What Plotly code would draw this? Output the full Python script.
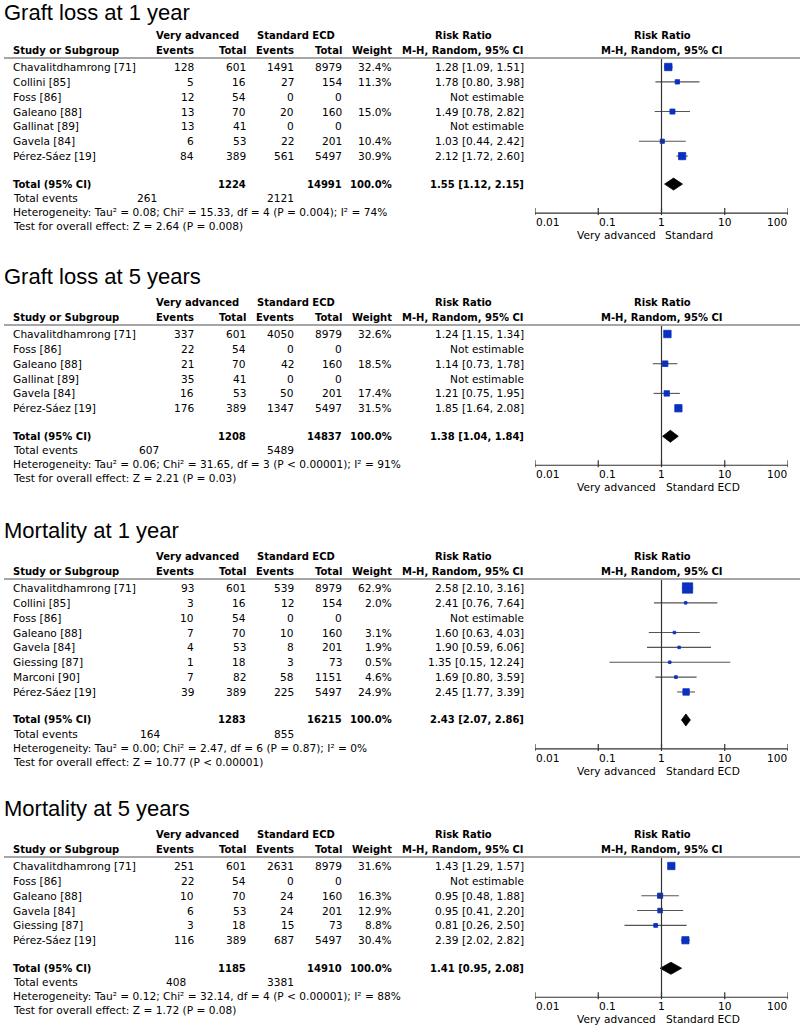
import math
import plotly.graph_objects as go

# ---------------- data ----------------
p1_title = "Graft loss at 1 year"
p1_studies = ["Chavalitdhamrong [71]", "Collini [85]", "Foss [86]", "Galeano [88]",
              "Gallinat [89]", "Gavela [84]", "Pérez-Sáez [19]"]
p1_va_events = [128, 5, 12, 13, 13, 6, 84]
p1_va_total = [601, 16, 54, 70, 41, 53, 389]
p1_se_events = [1491, 27, 0, 20, 0, 22, 561]
p1_se_total = [8979, 154, 0, 160, 0, 201, 5497]
p1_weight = [32.4, 11.3, None, 15.0, None, 10.4, 30.9]
p1_rr = [1.28, 1.78, None, 1.49, None, 1.03, 2.12]
p1_lo = [1.09, 0.80, None, 0.78, None, 0.44, 1.72]
p1_hi = [1.51, 3.98, None, 2.82, None, 2.42, 2.60]
p1_totals = [1224, 14991, 1.55, 1.12, 2.15]
p1_total_events = [261, 2121]
p1_het = "Heterogeneity: Tau² = 0.08; Chi² = 15.33, df = 4 (P = 0.004); I² = 74%"
p1_test = "Test for overall effect: Z = 2.64 (P = 0.008)"
p1_right = "Standard"

p2_title = "Graft loss at 5 years"
p2_studies = ["Chavalitdhamrong [71]", "Foss [86]", "Galeano [88]", "Gallinat [89]",
              "Gavela [84]", "Pérez-Sáez [19]"]
p2_va_events = [337, 22, 21, 35, 16, 176]
p2_va_total = [601, 54, 70, 41, 53, 389]
p2_se_events = [4050, 0, 42, 0, 50, 1347]
p2_se_total = [8979, 0, 160, 0, 201, 5497]
p2_weight = [32.6, None, 18.5, None, 17.4, 31.5]
p2_rr = [1.24, None, 1.14, None, 1.21, 1.85]
p2_lo = [1.15, None, 0.73, None, 0.75, 1.64]
p2_hi = [1.34, None, 1.78, None, 1.95, 2.08]
p2_totals = [1208, 14837, 1.38, 1.04, 1.84]
p2_total_events = [607, 5489]
p2_het = "Heterogeneity: Tau² = 0.06; Chi² = 31.65, df = 3 (P < 0.00001); I² = 91%"
p2_test = "Test for overall effect: Z = 2.21 (P = 0.03)"
p2_right = "Standard ECD"

p3_title = "Mortality at 1 year"
p3_studies = ["Chavalitdhamrong [71]", "Collini [85]", "Foss [86]", "Galeano [88]",
              "Gavela [84]", "Giessing [87]", "Marconi [90]", "Pérez-Sáez [19]"]
p3_va_events = [93, 3, 10, 7, 4, 1, 7, 39]
p3_va_total = [601, 16, 54, 70, 53, 18, 82, 389]
p3_se_events = [539, 12, 0, 10, 8, 3, 58, 225]
p3_se_total = [8979, 154, 0, 160, 201, 73, 1151, 5497]
p3_weight = [62.9, 2.0, None, 3.1, 1.9, 0.5, 4.6, 24.9]
p3_rr = [2.58, 2.41, None, 1.60, 1.90, 1.35, 1.69, 2.45]
p3_lo = [2.10, 0.76, None, 0.63, 0.59, 0.15, 0.80, 1.77]
p3_hi = [3.16, 7.64, None, 4.03, 6.06, 12.24, 3.59, 3.39]
p3_totals = [1283, 16215, 2.43, 2.07, 2.86]
p3_total_events = [164, 855]
p3_het = "Heterogeneity: Tau² = 0.00; Chi² = 2.47, df = 6 (P = 0.87); I² = 0%"
p3_test = "Test for overall effect: Z = 10.77 (P < 0.00001)"
p3_right = "Standard ECD"

p4_title = "Mortality at 5 years"
p4_studies = ["Chavalitdhamrong [71]", "Foss [86]", "Galeano [88]", "Gavela [84]",
              "Giessing [87]", "Pérez-Sáez [19]"]
p4_va_events = [251, 22, 10, 6, 3, 116]
p4_va_total = [601, 54, 70, 53, 18, 389]
p4_se_events = [2631, 0, 24, 24, 15, 687]
p4_se_total = [8979, 0, 160, 201, 73, 5497]
p4_weight = [31.6, None, 16.3, 12.9, 8.8, 30.4]
p4_rr = [1.43, None, 0.95, 0.95, 0.81, 2.39]
p4_lo = [1.29, None, 0.48, 0.41, 0.26, 2.02]
p4_hi = [1.57, None, 1.88, 2.20, 2.50, 2.82]
p4_totals = [1185, 14910, 1.41, 0.95, 2.08]
p4_total_events = [408, 3381]
p4_het = "Heterogeneity: Tau² = 0.12; Chi² = 32.14, df = 4 (P < 0.00001); I² = 88%"
p4_test = "Test for overall effect: Z = 1.72 (P = 0.08)"
p4_right = "Standard ECD"

axis_ticks = [0.01, 0.1, 1, 10, 100]
axis_tick_labels = ["0.01", "0.1", "1", "10", "100"]

# ---------------- layout constants ----------------
W, H = 800, 1025
FONT = "DejaVu Sans"
TITLE_FONT = "Liberation Sans"
FS = 10.6
FSB = 10.0
STEP = 14.85
SQ = "#0a30c0"
CI = "#555555"
TICK_ANCHORS = ["left", "left", "center", "center", "right"]

panels = [
    dict(title=p1_title, studies=p1_studies, vae=p1_va_events, vat=p1_va_total,
         see=p1_se_events, set=p1_se_total, w=p1_weight, rr=p1_rr, lo=p1_lo, hi=p1_hi,
         tot=p1_totals, te=p1_total_events, het=p1_het, test=p1_test, right=p1_right,
         ty=12, h1=35, te_x=158),
    dict(title=p2_title, studies=p2_studies, vae=p2_va_events, vat=p2_va_total,
         see=p2_se_events, set=p2_se_total, w=p2_weight, rr=p2_rr, lo=p2_lo, hi=p2_hi,
         tot=p2_totals, te=p2_total_events, het=p2_het, test=p2_test, right=p2_right,
         ty=276, h1=302, te_x=160),
    dict(title=p3_title, studies=p3_studies, vae=p3_va_events, vat=p3_va_total,
         see=p3_se_events, set=p3_se_total, w=p3_weight, rr=p3_rr, lo=p3_lo, hi=p3_hi,
         tot=p3_totals, te=p3_total_events, het=p3_het, test=p3_test, right=p3_right,
         ty=530, h1=556, te_x=161),
    dict(title=p4_title, studies=p4_studies, vae=p4_va_events, vat=p4_va_total,
         see=p4_se_events, set=p4_se_total, w=p4_weight, rr=p4_rr, lo=p4_lo, hi=p4_hi,
         tot=p4_totals, te=p4_total_events, het=p4_het, test=p4_test, right=p4_right,
         ty=808, h1=834, te_x=187),
]

X_EV1, X_TO1, X_EV2, X_TO2, X_W, X_RR = 195, 247, 295, 343, 393, 525
X_LEFT = 12

fig = go.Figure()
ann = []
shapes = []


def txt(x, y, s, anchor="right", bold=False, size=None, font=FONT, xref="x"):
    ann.append(dict(x=x, y=y, xref=xref, yref="y", text=s, showarrow=False,
                    xanchor=anchor, yanchor="middle", borderpad=0,
                    font=dict(family=font, size=size or (FSB if bold else FS), color="black",
                              weight="bold" if bold else "normal")))


# invisible base trace
fig.add_trace(go.Scatter(x=[0, W], y=[0, H], mode="markers", marker=dict(opacity=0),
                         hoverinfo="skip", showlegend=False, xaxis="x", yaxis="y"))

for p in panels:
    h1 = p["h1"]
    h2 = h1 + 15
    sep = h1 + 23
    r0 = h1 + 32
    n = len(p["studies"])
    rows = [r0 + i * STEP for i in range(n)]
    ytot = rows[-1] + 28
    yte, yhet, ytest = ytot + 14, ytot + 28, ytot + 42
    yax = ytot + 29

    # title
    ann.append(dict(x=3, y=p["ty"], xref="x", yref="y", text=p["title"], showarrow=False,
                    xanchor="left", yanchor="middle", borderpad=0,
                    font=dict(family=TITLE_FONT, size=22, color="black")))
    # headers
    txt(197, h1, "Very advanced", "center", bold=True)
    txt(296, h1, "Standard ECD", "center", bold=True)
    txt(463, h1, "Risk Ratio", "center", bold=True)
    txt(662, h1, "Risk Ratio", "center", bold=True)
    txt(X_LEFT, h2, "Study or Subgroup", "left", bold=True)
    txt(X_EV1, h2, "Events", bold=True)
    txt(X_TO1, h2, "Total", bold=True)
    txt(X_EV2, h2, "Events", bold=True)
    txt(X_TO2, h2, "Total", bold=True)
    txt(X_W, h2, "Weight", bold=True)
    txt(X_RR, h2, "M-H, Random, 95% CI", bold=True)
    txt(662, h2, "M-H, Random, 95% CI", "center", bold=True)
    shapes.append(dict(type="line", xref="x", yref="y", x0=4, x1=800, y0=sep, y1=sep,
                       line=dict(color="#888888", width=1.5)))

    # rows
    for i, y in enumerate(rows):
        txt(X_LEFT, y, p["studies"][i], "left")
        txt(X_EV1, y, str(p["vae"][i]))
        txt(X_TO1, y, str(p["vat"][i]))
        txt(X_EV2, y, str(p["see"][i]))
        txt(X_TO2, y, str(p["set"][i]))
        if p["w"][i] is not None:
            txt(X_W, y, f"{p['w'][i]:.1f}%")
            txt(X_RR, y, f"{p['rr'][i]:.2f} [{p['lo'][i]:.2f}, {p['hi'][i]:.2f}]")
        else:
            txt(X_RR, y, "Not estimable")

    # total
    vt, st, trr, tlo, thi = p["tot"]
    txt(X_LEFT, ytot, "Total (95% CI)", "left", bold=True)
    txt(X_TO1, ytot, str(vt), bold=True)
    txt(X_TO2, ytot, str(st), bold=True)
    txt(X_W, ytot, "100.0%", bold=True)
    txt(X_RR, ytot, f"{trr:.2f} [{tlo:.2f}, {thi:.2f}]", bold=True)
    txt(X_LEFT, yte, "Total events", "left")
    txt(p["te_x"], yte, str(p["te"][0]))
    txt(X_EV2, yte, str(p["te"][1]))
    txt(X_LEFT, yhet, p["het"], "left")
    txt(X_LEFT, ytest, p["test"], "left")

    # CI lines
    cx, cy = [], []
    sx, sy, ss = [], [], []
    for i, y in enumerate(rows):
        if p["rr"][i] is None:
            continue
        cx += [p["lo"][i], p["hi"][i], None]
        cy += [y, y, None]
        sx.append(p["rr"][i])
        sy.append(y)
        ss.append(max(2.6, 1.3 * p["w"][i] ** 0.5))
    fig.add_trace(go.Scatter(x=cx, y=cy, mode="lines", line=dict(color=CI, width=1.1),
                             xaxis="x2", yaxis="y", showlegend=False, hoverinfo="skip"))
    fig.add_trace(go.Scatter(x=sx, y=sy, mode="markers",
                             marker=dict(symbol="square", size=ss, color=SQ, opacity=1,
                                         line=dict(width=0.8, color=SQ)),
                             xaxis="x2", yaxis="y", showlegend=False))
    # diamond
    fig.add_trace(go.Scatter(x=[tlo, trr, thi, trr, tlo], y=[ytot, ytot - 6, ytot, ytot + 6, ytot],
                             mode="lines", fill="toself", fillcolor="black",
                             line=dict(color="black", width=0.8),
                             xaxis="x2", yaxis="y", showlegend=False))

    # axis (log axis: annotation x in log10 units; shapes in data units)
    shapes.append(dict(type="line", xref="x2", yref="y", x0=axis_ticks[0], x1=axis_ticks[-1],
                       y0=yax, y1=yax, line=dict(color="#333333", width=1.2)))
    for t, lab, anc in zip(axis_ticks, axis_tick_labels, TICK_ANCHORS):
        shapes.append(dict(type="line", xref="x2", yref="y", x0=t, x1=t, y0=yax - 5, y1=yax + 2,
                           line=dict(color="#333333", width=1.2)))
        ann.append(dict(x=math.log10(t), y=yax + 9, xref="x2", yref="y", text=lab, showarrow=False,
                        xanchor=anc, yanchor="middle", borderpad=0,
                        font=dict(family=FONT, size=FS, color="black")))
    shapes.append(dict(type="line", xref="x2", yref="y", x0=1, x1=1, y0=sep + 1, y1=yax,
                       line=dict(color="#333333", width=1.2)))
    txt(math.log10(0.86), yax + 22, "Very advanced", "right", xref="x2")
    txt(math.log10(1.08 if p["right"] == "Standard" else 1.12), yax + 22, p["right"], "left", xref="x2")

fig.update_layout(
    width=W, height=H, margin=dict(l=0, r=0, t=0, b=0),
    paper_bgcolor="white", plot_bgcolor="white",
    xaxis=dict(range=[0, W], visible=False, fixedrange=True, domain=[0, 1]),
    yaxis=dict(range=[H, 0], visible=False, fixedrange=True, domain=[0, 1]),
    xaxis2=dict(type="log", range=[-2, 2], domain=[535 / W, 788 / W], visible=False,
                anchor="y", fixedrange=True),
    annotations=ann, shapes=shapes, showlegend=False,
)

fig.write_html("out.html", config=dict(displayModeBar=False),
               post_script="document.body.style.margin='0px';document.body.style.overflow='hidden';")
